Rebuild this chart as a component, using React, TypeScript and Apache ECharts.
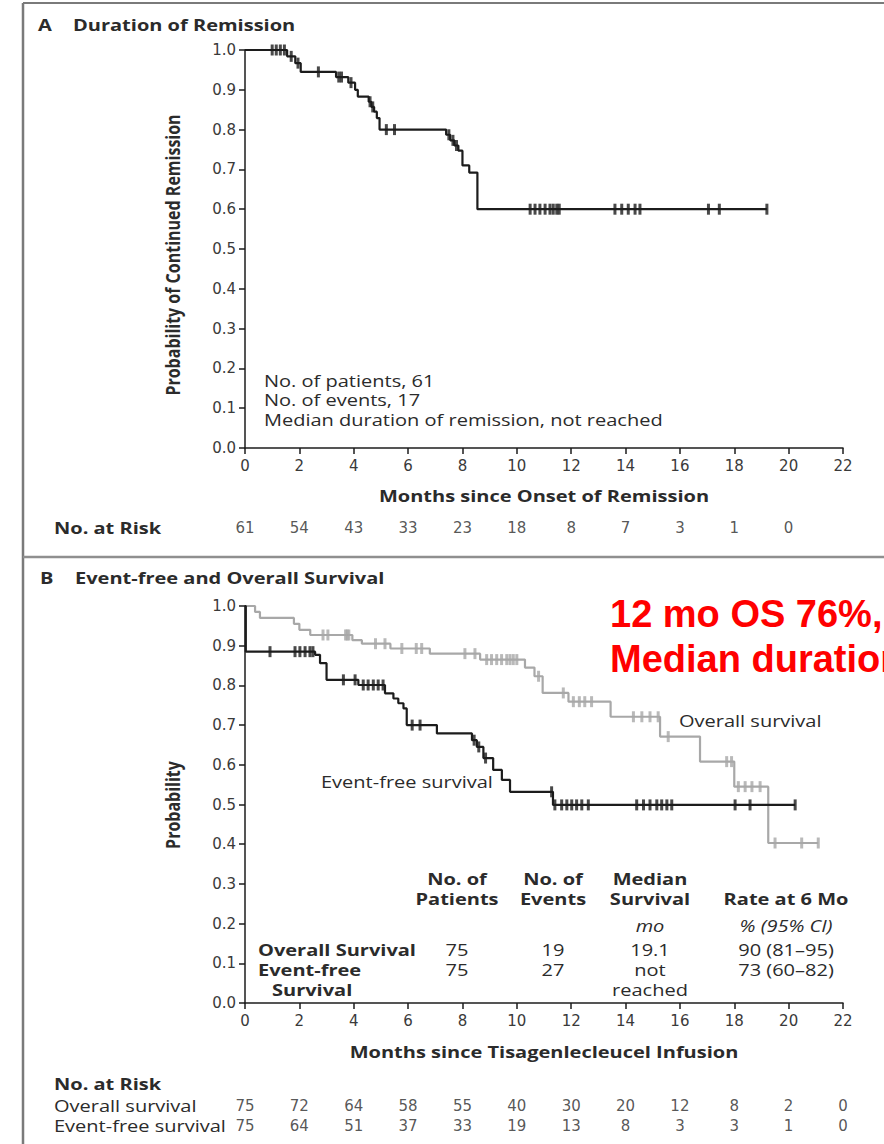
import React, { useEffect, useRef } from "react";
import * as echarts from "echarts";

// ---------- Panel A: duration of remission ----------
const remEventTimes = [1.55, 1.85, 2.05, 3.35, 3.8, 4.05, 4.15, 4.55, 4.65, 4.75, 4.85, 4.95, 7.4, 7.55, 7.7, 7.85, 8.0, 8.25, 8.55];
const remEventSurv = [0.984, 0.967, 0.945, 0.932, 0.918, 0.9, 0.883, 0.87, 0.857, 0.845, 0.829, 0.8, 0.787, 0.773, 0.76, 0.747, 0.71, 0.692, 0.6];
const remCensorTimes = [1.0, 1.15, 1.3, 1.45, 1.7, 1.95, 2.7, 3.45, 3.55, 3.9, 4.6, 4.7, 5.2, 5.5, 7.5, 7.65, 7.78, 10.49, 10.67, 10.85, 11.04, 11.22, 11.34, 11.47, 11.56, 13.61, 13.86, 14.1, 14.35, 14.53, 17.05, 17.45, 19.2];
const remRiskTimes = [0, 2, 4, 6, 8, 10, 12, 14, 16, 18, 20];
const remAtRisk = [61, 54, 43, 33, 23, 18, 8, 7, 3, 1, 0];

// ---------- Panel B: overall survival ----------
const osEventTimes = [0.37, 0.55, 1.8, 2.0, 2.4, 3.95, 4.3, 5.35, 6.8, 8.65, 10.3, 10.65, 10.95, 11.9, 13.45, 15.27, 16.74, 18.0, 19.25];
const osEventSurv = [0.985, 0.97, 0.955, 0.94, 0.927, 0.914, 0.905, 0.893, 0.88, 0.865, 0.845, 0.823, 0.781, 0.759, 0.721, 0.671, 0.608, 0.545, 0.403];
const osCensorTimes = [2.87, 3.05, 3.7, 3.76, 3.82, 4.8, 5.15, 5.77, 6.3, 6.5, 8.09, 8.46, 8.89, 9.07, 9.26, 9.44, 9.63, 9.75, 9.87, 10.0, 10.8, 11.71, 12.08, 12.3, 12.5, 12.75, 14.29, 14.6, 14.9, 15.2, 15.57, 17.72, 17.9, 18.15, 18.4, 18.65, 18.95, 19.5, 20.48, 21.09];

// ---------- Panel B: event-free survival ----------
const efsEventTimes = [0.03, 2.58, 2.76, 3.0, 4.17, 5.15, 5.46, 5.64, 5.83, 5.95, 7.06, 8.35, 8.53, 8.77, 9.13, 9.45, 9.75, 11.33];
const efsEventSurv = [0.885, 0.877, 0.856, 0.814, 0.801, 0.78, 0.767, 0.755, 0.742, 0.7, 0.679, 0.662, 0.645, 0.617, 0.587, 0.562, 0.532, 0.499];
const efsCensorTimes = [0.92, 1.84, 2.02, 2.21, 2.39, 2.5, 3.62, 4.05, 4.35, 4.53, 4.72, 4.9, 5.08, 6.15, 6.44, 8.43, 8.6, 8.85, 11.28, 11.4, 11.65, 11.84, 12.02, 12.2, 12.39, 12.63, 14.41, 14.66, 14.9, 15.15, 15.33, 15.52, 15.7, 18.03, 18.58, 20.24];

const survRiskTimes = [0, 2, 4, 6, 8, 10, 12, 14, 16, 18, 20, 22];
const osAtRisk = [75, 72, 64, 58, 55, 40, 30, 20, 12, 8, 2, 0];
const efsAtRisk = [75, 64, 51, 37, 33, 19, 13, 8, 3, 3, 1, 0];

// ---------- Panel B table ----------
const tableHeads = [["No. of", "Patients"], ["No. of", "Events"], ["Median", "Survival"], ["", "Rate at 6 Mo"]];
const tableUnits = ["", "", "mo", "% (95% CI)"];
const tableRowNames = [["Overall Survival"], ["Event-free", "Survival"]];
const tableValues = [
  [["75"], ["19"], ["19.1"], ["90 (81\u201395)"]],
  [["75"], ["27"], ["not", "reached"], ["73 (60\u201382)"]],
];

const FONT = "'Open Sans', 'DejaVu Sans', sans-serif";
const NUMFONT = "'DejaVu Sans', sans-serif";
const INK = "#2b2b2b";
const BLACK = "#1c1c1c";
const GRAY = "#a8a8a8";
const S = 1.25;

function stepPoints(ts: number[], ss: number[], end: number) {
  const pts: number[][] = [[0, 1]];
  let prev = 1;
  for (let i = 0; i < ts.length; i++) {
    pts.push([ts[i], prev]);
    pts.push([ts[i], ss[i]]);
    prev = ss[i];
  }
  pts.push([end, prev]);
  return pts;
}
function survAt(ts: number[], ss: number[], t: number) {
  let v = 1;
  for (let i = 0; i < ts.length; i++) if (ts[i] <= t) v = ss[i];
  return v;
}
function censorPts(ts: number[], ss: number[], cs: number[]) {
  return cs.map((c) => [c, survAt(ts, ss, c)]);
}

function T(x: number, y: number, text: string, o: any = {}) {
  return {
    type: "text",
    x,
    y,
    scaleX: o.sx ?? S,
    scaleY: o.sy ?? 1,
    rotation: o.rot ?? 0,
    silent: true,
    style: {
      text,
      fontFamily: o.ff ?? FONT,
      fontSize: o.fs ?? 16,
      fontWeight: o.fw ?? "normal",
      fontStyle: o.it ? "italic" : "normal",
      fill: o.c ?? INK,
      align: o.a ?? "left",
      verticalAlign: "middle",
    },
  };
}
function L(x1: number, y1: number, x2: number, y2: number, stroke: string, w: number) {
  return { type: "line", silent: true, shape: { x1, y1, x2, y2 }, style: { stroke, lineWidth: w } };
}

function plotXAxis(gridIndex: number) {
  return {
    type: "value",
    gridIndex,
    min: 0,
    max: 22,
    interval: 2,
    axisLine: { lineStyle: { color: BLACK, width: 1.5 } },
    axisTick: { length: 6, lineStyle: { color: BLACK, width: 1.5 } },
    axisLabel: { fontFamily: NUMFONT, fontSize: 15, color: "#3a3a3a", margin: 10 },
    splitLine: { show: false },
  };
}
function plotYAxis(gridIndex: number) {
  return {
    type: "value",
    gridIndex,
    min: 0,
    max: 1,
    interval: 0.1,
    axisLine: { show: true, lineStyle: { color: BLACK, width: 1.5 } },
    axisTick: { show: true, length: 6, lineStyle: { color: BLACK, width: 1.5 } },
    axisLabel: { fontFamily: NUMFONT, fontSize: 15, color: "#3a3a3a", margin: 9, formatter: (v: number) => v.toFixed(1) },
    splitLine: { show: false },
  };
}
function hiddenAxis(gridIndex: number, min: number, max: number) {
  return { type: "value", gridIndex, min, max, show: false };
}
function riskSeries(x: number, y: number, times: number[], vals: number[], row: number) {
  return {
    type: "scatter",
    xAxisIndex: x,
    yAxisIndex: y,
    symbolSize: 1,
    itemStyle: { color: "rgba(0,0,0,0)" },
    silent: true,
    label: {
      show: true,
      position: "inside",
      fontFamily: NUMFONT,
      fontSize: 15,
      color: INK,
      formatter: (p: any) => String(p.value[2]),
    },
    data: times.map((t, i) => [t, row, vals[i]]),
  };
}
function curve(x: number, y: number, pts: number[][], color: string, z: number) {
  return {
    type: "line",
    xAxisIndex: x,
    yAxisIndex: y,
    data: pts,
    showSymbol: false,
    clip: false,
    silent: true,
    z,
    lineStyle: { color, width: 2.2 },
  };
}
function censors(x: number, y: number, pts: number[][], color: string, z: number) {
  return {
    type: "scatter",
    xAxisIndex: x,
    yAxisIndex: y,
    data: pts,
    symbol: "rect",
    symbolSize: [3, 11],
    silent: true,
    z,
    itemStyle: { color },
  };
}

export default function App() {
  const ref = useRef<HTMLDivElement>(null);
  useEffect(() => {
    document.body.style.margin = "0";
    if (!ref.current) return;
    const chart = echarts.init(ref.current, undefined, { renderer: "svg" });

    const remLine = stepPoints(remEventTimes, remEventSurv, remCensorTimes[remCensorTimes.length - 1]);
    const osLine = stepPoints(osEventTimes, osEventSurv, osCensorTimes[osCensorTimes.length - 1]);
    const efsLine = stepPoints(efsEventTimes, efsEventSurv, efsCensorTimes[efsCensorTimes.length - 1]);

    const RED = { ff: "'Liberation Sans', Arial, sans-serif", fw: "bold", fs: 38, sx: 1, c: "#ff0000" };
    const graphics: any[] = [
      L(23, 3, 23, 1144, "#7a7a7a", 2.5),
      L(23, 3, 884, 3, "#7a7a7a", 2),
      L(23, 557, 884, 557, "#8f8f8f", 2.5),
      // Panel A
      T(38, 25, "A", { fw: "bold", fs: 16 }),
      T(73, 25, "Duration of Remission", { fw: "bold", fs: 16 }),
      T(172, 255, "Probability of Continued Remission", { fw: "bold", fs: 16, sx: 1, sy: S, rot: Math.PI / 2, a: "center" }),
      T(264, 381, "No. of patients, 61"),
      T(264, 400, "No. of events, 17"),
      T(264, 420, "Median duration of remission, not reached"),
      T(544, 496, "Months since Onset of Remission", { fw: "bold", a: "center" }),
      T(54, 528, "No. at Risk", { fw: "bold" }),
      // Panel B
      T(40, 578, "B", { fw: "bold", fs: 16 }),
      T(75, 578, "Event-free and Overall Survival", { fw: "bold", fs: 16 }),
      T(172, 805, "Probability", { fw: "bold", fs: 16, sx: 1, sy: S, rot: Math.PI / 2, a: "center" }),
      T(679, 721, "Overall survival"),
      T(321, 782, "Event-free survival"),
      T(544, 1052, "Months since Tisagenlecleucel Infusion", { fw: "bold", a: "center" }),
      T(54, 1084, "No. at Risk", { fw: "bold" }),
      T(54, 1106, "Overall survival"),
      T(54, 1126, "Event-free survival"),
      // red overlay (cut at the right edge, as in the source image)
      T(610, 614, "12 mo OS 76%,", RED),
      T(610, 659, "Median duration", RED),
    ];

    // table
    const colX = [457, 553, 650, 786];
    tableHeads.forEach((h, i) => {
      if (h[0]) graphics.push(T(colX[i], 879, h[0], { fw: "bold", a: "center" }));
      graphics.push(T(colX[i], 899, h[1], { fw: "bold", a: "center" }));
      if (tableUnits[i]) graphics.push(T(colX[i], 926, tableUnits[i], { it: true, a: "center" }));
    });
    const rowY = [950, 970];
    tableRowNames.forEach((names, r) => {
      graphics.push(T(258, rowY[r], names[0], { fw: "bold" }));
      if (names[1]) graphics.push(T(272, rowY[r] + 20, names[1], { fw: "bold" }));
      tableValues[r].forEach((cell, c) => {
        cell.forEach((line, k) => graphics.push(T(colX[c], rowY[r] + 20 * k, line, { a: "center" })));
      });
    });

    chart.setOption({
      animation: false,
      textStyle: { fontFamily: FONT },
      grid: [
        { left: 245, top: 50, width: 598, height: 398 },
        { left: 245, top: 518, width: 598, height: 20 },
        { left: 245, top: 606, width: 598, height: 397 },
        { left: 245, top: 1096, width: 598, height: 40 },
      ],
      xAxis: [plotXAxis(0), hiddenAxis(1, 0, 22), plotXAxis(2), hiddenAxis(3, 0, 22)],
      yAxis: [plotYAxis(0), hiddenAxis(1, -0.5, 0.5), plotYAxis(2), hiddenAxis(3, -1.5, 0.5)],
      series: [
        curve(0, 0, remLine, BLACK, 3),
        censors(0, 0, censorPts(remEventTimes, remEventSurv, remCensorTimes), BLACK, 4),
        riskSeries(1, 1, remRiskTimes, remAtRisk, 0),
        curve(2, 2, osLine, GRAY, 2),
        censors(2, 2, censorPts(osEventTimes, osEventSurv, osCensorTimes), GRAY, 2),
        curve(2, 2, efsLine, BLACK, 3),
        censors(2, 2, censorPts(efsEventTimes, efsEventSurv, efsCensorTimes), BLACK, 4),
        riskSeries(3, 3, survRiskTimes, osAtRisk, 0),
        riskSeries(3, 3, survRiskTimes, efsAtRisk, -1),
      ],
      graphic: { elements: graphics },
    });
    return () => chart.dispose();
  }, []);
  return <div ref={ref} style={{ width: 884, height: 1144 }} />;
}
